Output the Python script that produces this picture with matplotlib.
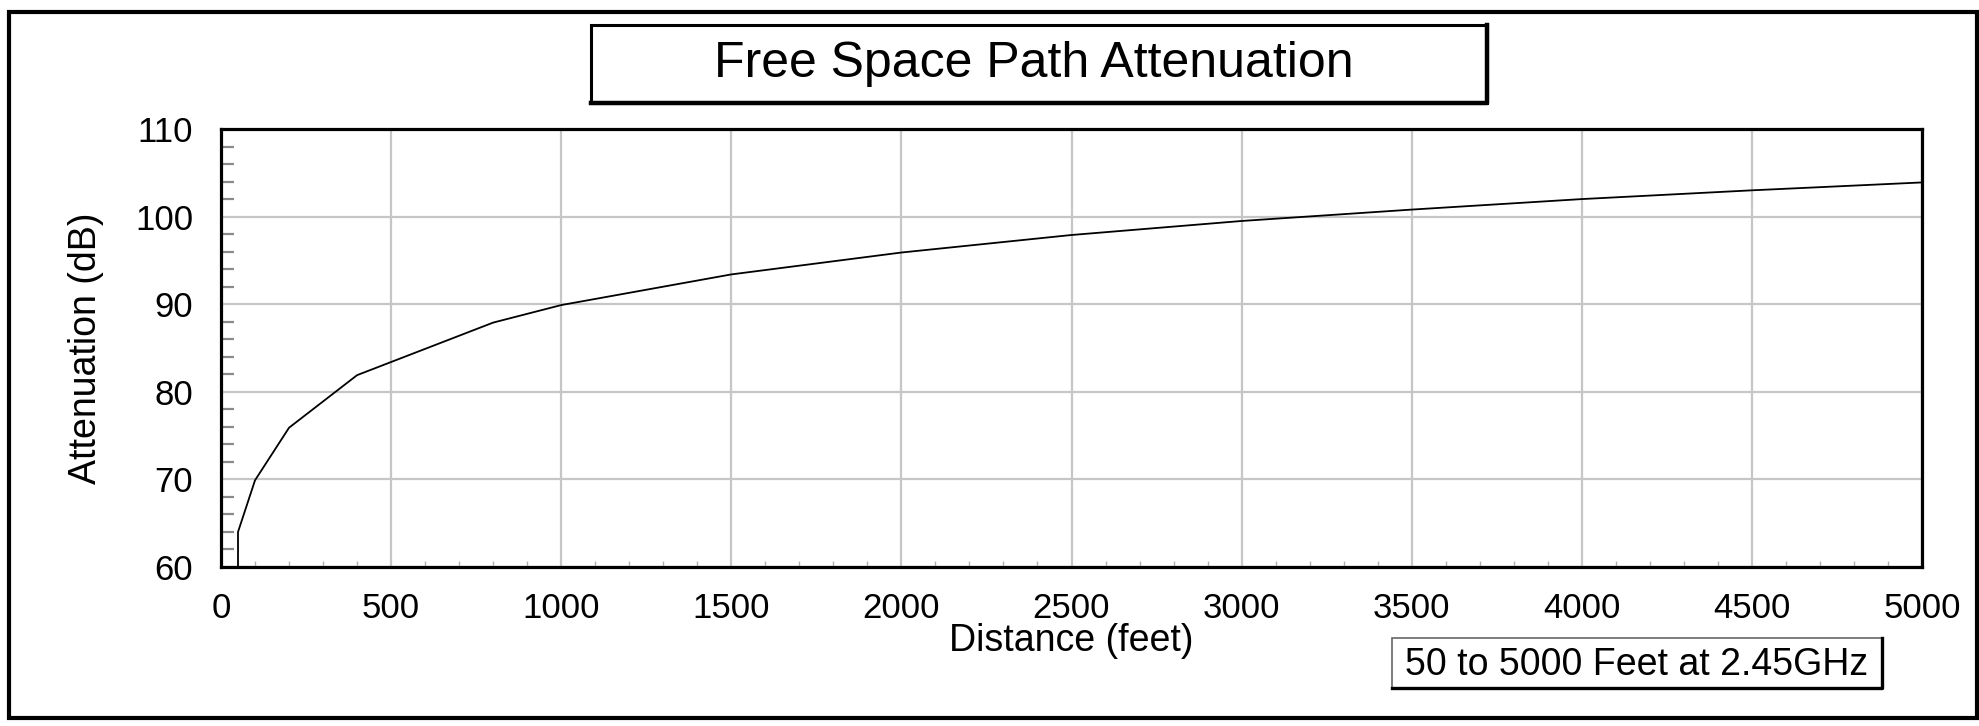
import matplotlib
matplotlib.use('Agg')
import matplotlib.pyplot as plt
from matplotlib.patches import Rectangle
from matplotlib.lines import Line2D
from matplotlib.ticker import MultipleLocator

plt.rcParams['font.family'] = ['Liberation Sans', 'DejaVu Sans']

# values (feet, dB)
distance_ft = [50, 50, 100, 200, 400, 800, 1000, 1500, 2000, 2500, 3000, 3500, 4000, 4500, 5000]
attenuation_db = [60.0, 64.0, 69.9, 75.9, 81.9, 87.9, 89.9, 93.4, 95.9, 97.9, 99.5, 100.8, 102.0, 103.0, 103.9]

x_ticks = [0, 500, 1000, 1500, 2000, 2500, 3000, 3500, 4000, 4500, 5000]
y_ticks = [60, 70, 80, 90, 100, 110]

title = 'Free Space Path Attenuation'
note = '50 to 5000 Feet at 2.45GHz'

W, H = 1979, 726
fig = plt.figure(figsize=(W / 100, H / 100), dpi=100)

# plot area (pixel box converted to figure fractions)
ax = fig.add_axes([221 / W, 1 - 567 / H, (1922 - 221) / W, (567 - 129) / H])
ax.plot(distance_ft, attenuation_db, color='black', lw=1.3)

ax.set_xlim(0, 5000)
ax.set_ylim(60, 110)
ax.set_xticks(x_ticks)
ax.set_yticks(y_ticks)
ax.xaxis.set_minor_locator(MultipleLocator(100))
ax.yaxis.set_minor_locator(MultipleLocator(2))

ax.grid(True, which='major', color='#c6c6c6', lw=1.6)
ax.set_axisbelow(True)

ax.tick_params(which='major', length=0, labelsize=25, colors='black')
ax.tick_params(axis='y', which='major', pad=20)
ax.tick_params(axis='x', which='major', pad=18)
ax.tick_params(axis='y', which='minor', direction='in', length=9, width=1.6, color='#8a8a8a')
ax.tick_params(axis='x', which='minor', direction='in', length=4, width=1.0, color='#b0b0b0')

for s in ax.spines.values():
    s.set_linewidth(2.3)
    s.set_color('black')

ax.set_xlabel('Distance (feet)', fontsize=27, va='top')
ax.xaxis.set_label_coords(0.5, -0.128)
ax.set_ylabel('Attenuation (dB)', fontsize=27, va='center')
ax.yaxis.set_label_coords((86 - 221) / 1701, 0.5)

# outer frame
fig.patches.append(Rectangle((9 / W, 1 - 718 / H), (1977 - 9) / W, (718 - 12) / H,
                             transform=fig.transFigure, fill=False,
                             edgecolor='black', lw=3))

# title box
tx0, tx1, ty0, ty1 = 591, 1487, 25, 103
fig.patches.append(Rectangle((tx0 / W, 1 - ty1 / H), (tx1 - tx0) / W, (ty1 - ty0) / H,
                             transform=fig.transFigure, fill=False,
                             edgecolor='black', lw=2.2))
fig.lines.append(Line2D([tx0 / W, tx1 / W, tx1 / W], [1 - ty1 / H, 1 - ty1 / H, 1 - ty0 / H],
                        transform=fig.transFigure, color='black', lw=3.2))
fig.text(1034 / W, 1 - 77 / H, title, fontsize=36, ha='center', va='baseline')

# note box
nx0, nx1, ny0, ny1 = 1392, 1882, 638, 688
fig.patches.append(Rectangle((nx0 / W, 1 - ny1 / H), (nx1 - nx0) / W, (ny1 - ny0) / H,
                             transform=fig.transFigure, fill=False,
                             edgecolor='#666666', lw=1.2))
fig.lines.append(Line2D([nx0 / W, nx1 / W, nx1 / W], [1 - ny1 / H, 1 - ny1 / H, 1 - ny0 / H],
                        transform=fig.transFigure, color='black', lw=2.4))
fig.text(1637 / W, 1 - 675 / H, note, fontsize=27, ha='center', va='baseline')

fig.savefig('out.png', dpi=100, facecolor='white')
